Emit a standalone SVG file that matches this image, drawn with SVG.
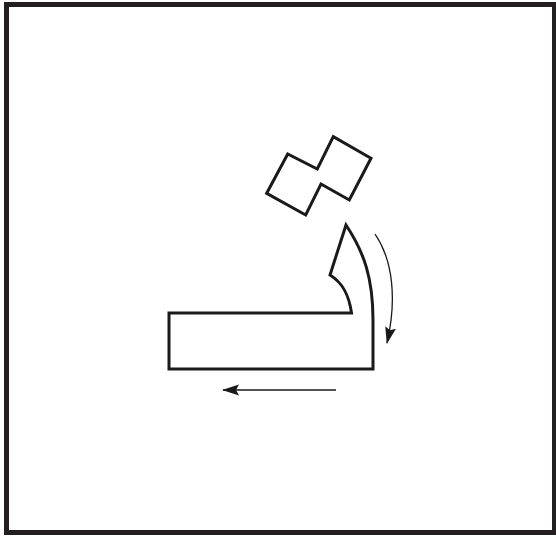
<svg xmlns="http://www.w3.org/2000/svg" width="556" height="538" viewBox="0 0 556 538">
  <defs>
    <style>
      .shape { fill: none; stroke: #1a1a1a; stroke-width: 3; stroke-linejoin: miter; }
      .conn { fill: none; stroke: #1a1a1a; stroke-width: 1.3; }
    </style>
    <marker id="arr" markerWidth="18" markerHeight="12" refX="16" refY="6" orient="auto" markerUnits="userSpaceOnUse">
      <path d="M0,0.5 L17,6 L0,11.5 L3,6 Z" fill="#1a1a1a"/>
    </marker>
  </defs>
  <rect x="0" y="0" width="556" height="538" fill="#ffffff"/>
  <rect x="6.5" y="4.5" width="548" height="528" fill="none" stroke="#231f20" stroke-width="5"/>
  <g id="squares">
    <polygon class="shape" points="266.7,193.3 287.7,154 317.3,169 333.3,136.7 371,158.3 349.3,200 321,184 305.7,215"/>
  </g>
  <g id="letter">
    <path class="shape" d="M346,225 C364,252 373,278 373,320 L373,369 L169,369 L169,313 L351.5,313 C349,295 343,283 330,275 Z"/>
  </g>
  <g id="connectors">
    <path class="conn" d="M375,234 C393,260 397,300 387,343" marker-end="url(#arr)"/>
    <path class="conn" d="M336,390 L223,390" marker-end="url(#arr)"/>
  </g>
</svg>
